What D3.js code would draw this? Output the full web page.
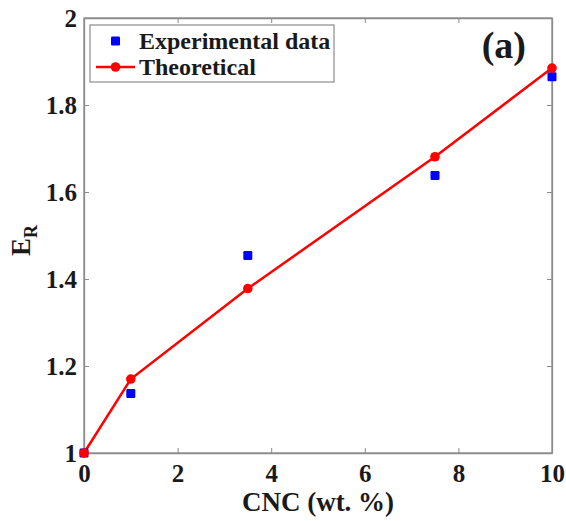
<!doctype html>
<html>
<head>
<meta charset="utf-8"/>
<style>
  html, body { margin: 0; background: #fff; }
  svg { display: block; }
</style>
<script src="https://d3js.org/d3.v7.min.js"></script>
</head>
<body>
<svg width="566" height="521"></svg>
<script>
// data
var cnc = [0, 1, 3.5, 7.5, 10];
var experimental = [1.0, 1.137, 1.454, 1.638, 1.865];
var theoretical = [1.0, 1.170, 1.378, 1.681, 1.885];
var xTicks = [0, 2, 4, 6, 8, 10];
var yTicks = [1, 1.2, 1.4, 1.6, 1.8, 2];

var FONT = "'Liberation Serif'";
var svg = d3.select("svg");
var margin = {top: 18, right: 14, bottom: 68, left: 84};
var W = 566, H = 521;

var x = d3.scaleLinear().domain([0, 10]).range([margin.left, W - margin.right]);
var y = d3.scaleLinear().domain([1, 2]).range([H - margin.bottom, margin.top]);

var axisColor = "#8c8c8c";

function label(sel, size) {
    return sel.style("font-family", FONT).style("font-weight", "bold")
        .style("font-size", size + "px").style("fill", "#1a1a1a");
}

// box
svg.append("rect")
    .attr("x", x(0)).attr("y", y(2))
    .attr("width", x(10) - x(0)).attr("height", y(1) - y(2))
    .attr("fill", "none").attr("stroke", axisColor).attr("stroke-width", 1.3);

// axes (ticks point inwards, mirrored on top and right)
var xAxis = svg.append("g").attr("transform", "translate(0," + y(1) + ")")
    .call(d3.axisBottom(x).tickValues(xTicks).tickFormat(d3.format("d")).tickSizeInner(-5).tickSizeOuter(0).tickPadding(11));
var xTop = svg.append("g").attr("transform", "translate(0," + y(2) + ")")
    .call(d3.axisTop(x).tickValues(xTicks).tickFormat("").tickSizeInner(-5).tickSizeOuter(0));
var yAxis = svg.append("g").attr("transform", "translate(" + x(0) + ",0)")
    .call(d3.axisLeft(y).tickValues(yTicks).tickFormat(function(d) { return String(+d.toFixed(1)); }).tickSizeInner(-5).tickSizeOuter(0).tickPadding(7));
var yRight = svg.append("g").attr("transform", "translate(" + x(10) + ",0)")
    .call(d3.axisRight(y).tickValues(yTicks).tickFormat("").tickSizeInner(-5).tickSizeOuter(0));

[xAxis, xTop, yAxis, yRight].forEach(function(g) {
    g.select(".domain").attr("stroke", axisColor).attr("stroke-width", 1.3);
    g.selectAll(".tick line").attr("stroke", axisColor);
    label(g.selectAll("text"), 25);
});
xAxis.selectAll("text").attr("dy", "0.71em");
yAxis.selectAll("text").attr("dy", "0.35em");

// theoretical line
var line = d3.line().x(function(d, i) { return x(cnc[i]); }).y(function(d) { return y(d); });
svg.append("path").datum(theoretical)
    .attr("d", line).attr("fill", "none").attr("stroke", "#ff0000").attr("stroke-width", 2.5);

// experimental markers
svg.selectAll(".exp").data(experimental).enter().append("rect")
    .attr("x", function(d, i) { return x(cnc[i]) - 4.5; })
    .attr("y", function(d) { return y(d) - 4.5; })
    .attr("width", 9).attr("height", 9).attr("rx", 1.2)
    .attr("fill", "#0000ff");

svg.selectAll(".theo").data(theoretical).enter().append("circle")
    .attr("cx", function(d, i) { return x(cnc[i]); })
    .attr("cy", function(d) { return y(d); })
    .attr("r", 4.8).attr("fill", "#ff0000");

// legend
var lg = svg.append("g");
lg.append("rect").attr("x", 90).attr("y", 25).attr("width", 244).attr("height", 57)
    .attr("fill", "#fff").attr("stroke", axisColor).attr("stroke-width", 1.2);
lg.append("rect").attr("x", 111).attr("y", 36.5).attr("width", 9).attr("height", 9).attr("rx", 1.2).attr("fill", "#0000ff");
lg.append("line").attr("x1", 96).attr("x2", 135).attr("y1", 67).attr("y2", 67)
    .attr("stroke", "#ff0000").attr("stroke-width", 2.5);
lg.append("circle").attr("cx", 115.5).attr("cy", 67).attr("r", 4.8).attr("fill", "#ff0000");
label(lg.append("text").attr("x", 139).attr("y", 49), 24).text("Experimental data");
label(lg.append("text").attr("x", 139).attr("y", 75), 24).text("Theoretical");

// panel tag
label(svg.append("text").attr("x", 526).attr("y", 58).attr("text-anchor", "end"), 38).text("(a)");

// axis titles
label(svg.append("text").attr("x", (x(0) + x(10)) / 2).attr("y", 511).attr("text-anchor", "middle"), 27)
    .text("CNC (wt. %)");

var yl = label(svg.append("text").attr("transform", "translate(30," + (y(1.5) + 5) + ") rotate(-90)")
    .attr("text-anchor", "middle"), 27);
yl.append("tspan").text("E");
yl.append("tspan").style("font-size", "18px").attr("dy", 7).text("R");
</script>
</body>
</html>
